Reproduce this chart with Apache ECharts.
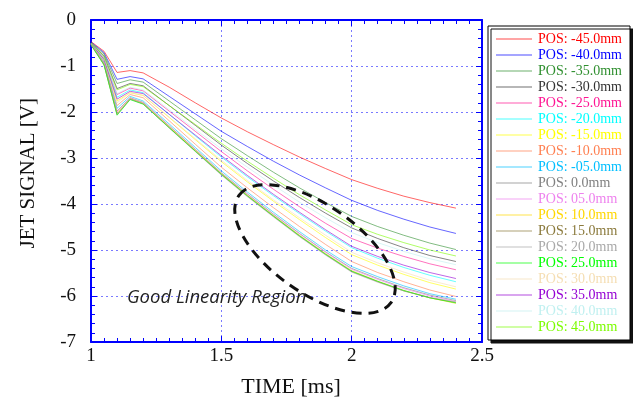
<!DOCTYPE html>
<html>
<head>
<meta charset="utf-8">
<script src="https://cdn.jsdelivr.net/npm/echarts@6/dist/echarts.min.js"></script>
<style>
html,body{margin:0;padding:0;background:#fff;}
#chart{width:633px;height:401px;}
</style>
</head>
<body>
<div id="chart"></div>
<script>
// time points [ms]
var times = [1.0, 1.05, 1.1, 1.15, 1.2, 1.3, 1.4, 1.5, 1.6, 1.7, 1.8, 1.9, 2.0, 2.1, 2.2, 2.3, 2.4];

var seriesNames = ["POS: -45.0mm","POS: -40.0mm","POS: -35.0mm","POS: -30.0mm","POS: -25.0mm","POS: -20.0mm","POS: -15.0mm","POS: -10.0mm","POS: -05.0mm","POS: 0.0mm","POS: 05.0mm","POS: 10.0mm","POS: 15.0mm","POS: 20.0mm","POS: 25.0mm","POS: 30.0mm","POS: 35.0mm","POS: 40.0mm","POS: 45.0mm"];

var seriesColors = ["#ff0000","#0000ff","#2f8f2f","#333333","#ff1493","#00ffff","#ffff00","#ff7f50","#00bfff","#808080","#ee82ee","#ffd700","#8b7a3c","#a9a9a9","#00ff00","#f5deb3","#9400d3","#c0f0f0","#7cfc00"];

// JET SIGNAL [V] per position
var posM45 = [-0.47,-0.68,-1.14,-1.10,-1.15,-1.46,-1.80,-2.13,-2.43,-2.71,-2.98,-3.23,-3.47,-3.66,-3.83,-3.97,-4.09];
var posM40 = [-0.48,-0.71,-1.29,-1.23,-1.28,-1.66,-2.04,-2.42,-2.75,-3.07,-3.37,-3.65,-3.92,-4.14,-4.33,-4.50,-4.64];
var posM35 = [-0.49,-0.74,-1.38,-1.30,-1.35,-1.76,-2.17,-2.58,-2.95,-3.31,-3.65,-3.97,-4.27,-4.49,-4.68,-4.85,-4.99];
var posM30 = [-0.50,-0.78,-1.49,-1.38,-1.43,-1.86,-2.29,-2.72,-3.12,-3.50,-3.86,-4.20,-4.52,-4.75,-4.95,-5.12,-5.25];
var posM25 = [-0.51,-0.83,-1.62,-1.48,-1.54,-1.98,-2.42,-2.86,-3.28,-3.68,-4.06,-4.42,-4.75,-4.96,-5.14,-5.30,-5.43];
var posM20 = [-0.51,-0.85,-1.68,-1.52,-1.58,-2.05,-2.52,-2.98,-3.41,-3.82,-4.21,-4.59,-4.95,-5.18,-5.38,-5.55,-5.69];
var posM15 = [-0.52,-0.87,-1.76,-1.58,-1.64,-2.12,-2.60,-3.08,-3.52,-3.94,-4.34,-4.73,-5.10,-5.33,-5.53,-5.71,-5.85];
var posM10 = [-0.52,-0.90,-1.86,-1.62,-1.69,-2.19,-2.70,-3.20,-3.65,-4.08,-4.49,-4.88,-5.25,-5.49,-5.69,-5.87,-6.01];
var posM05 = [-0.52,-0.92,-1.92,-1.66,-1.76,-2.26,-2.77,-3.28,-3.74,-4.18,-4.60,-5.00,-5.36,-5.58,-5.78,-5.95,-6.07];
var pos00  = [-0.53,-0.94,-1.98,-1.69,-1.79,-2.30,-2.81,-3.32,-3.78,-4.22,-4.64,-5.04,-5.40,-5.62,-5.82,-5.98,-6.10];
var posP05 = [-0.53,-0.95,-2.00,-1.70,-1.80,-2.31,-2.82,-3.33,-3.79,-4.23,-4.65,-5.05,-5.42,-5.64,-5.84,-6.00,-6.12];
var posP10 = [-0.53,-0.96,-2.03,-1.71,-1.81,-2.32,-2.83,-3.34,-3.81,-4.25,-4.68,-5.08,-5.45,-5.68,-5.88,-6.04,-6.16];
var posP15 = [-0.54,-0.97,-2.05,-1.72,-1.82,-2.34,-2.85,-3.36,-3.83,-4.27,-4.70,-5.10,-5.47,-5.69,-5.89,-6.04,-6.14];
var posP20 = [-0.54,-0.97,-2.06,-1.72,-1.82,-2.35,-2.86,-3.37,-3.84,-4.28,-4.71,-5.11,-5.48,-5.70,-5.89,-6.03,-6.13];
var posP25 = [-0.54,-0.98,-2.07,-1.73,-1.83,-2.34,-2.85,-3.35,-3.82,-4.26,-4.69,-5.09,-5.46,-5.68,-5.88,-6.04,-6.15];
var posP30 = [-0.52,-0.88,-1.80,-1.58,-1.64,-2.11,-2.58,-3.05,-3.49,-3.91,-4.30,-4.68,-5.05,-5.28,-5.48,-5.66,-5.80];
var posP35 = [-0.51,-0.86,-1.72,-1.55,-1.60,-2.05,-2.50,-2.95,-3.38,-3.79,-4.18,-4.56,-4.92,-5.14,-5.33,-5.49,-5.62];
var posP40 = [-0.50,-0.82,-1.60,-1.46,-1.52,-1.95,-2.38,-2.80,-3.20,-3.59,-3.96,-4.30,-4.62,-4.84,-5.03,-5.19,-5.32];
var posP45 = [-0.50,-0.80,-1.52,-1.40,-1.45,-1.86,-2.27,-2.68,-3.07,-3.44,-3.80,-4.13,-4.45,-4.66,-4.84,-5.00,-5.13];

var seriesValues = [posM45,posM40,posM35,posM30,posM25,posM20,posM15,posM10,posM05,pos00,posP05,posP10,posP15,posP20,posP25,posP30,posP35,posP40,posP45];

var xTicks = [1, 1.5, 2, 2.5];
var yTicks = [0, -1, -2, -3, -4, -5, -6, -7];

var chart = echarts.init(document.getElementById('chart'), null, {renderer: 'canvas'});

var series = seriesNames.map(function (name, i) {
  return {
    name: name,
    type: 'line',
    symbol: 'none',
    xAxisIndex: 0,
    yAxisIndex: 0,
    lineStyle: {width: 1, color: seriesColors[i], opacity: 0.6},
    itemStyle: {color: seriesColors[i]},
    data: times.map(function (t, j) { return [t, seriesValues[i][j]]; }),
    z: 2
  };
});

var blue = '#0000ff';
var gridLine = {show: true, lineStyle: {color: '#7a7aff', width: 1, type: [2, 3]}};
var serif = 'Liberation Serif';

function xAxisBase(pos, labels) {
  return {
    type: 'value', position: pos, min: xTicks[0], max: xTicks[xTicks.length - 1], interval: 0.5,
    axisLine: {show: true, onZero: false, lineStyle: {color: blue, width: 2}},
    axisTick: {show: true, inside: true, length: 6, lineStyle: {color: blue}},
    minorTick: {show: true, splitNumber: 10, length: 4, lineStyle: {color: blue}},
    axisLabel: {show: labels, color: '#111', fontFamily: serif, fontSize: 19, margin: 5,
      formatter: function (v) { return String(v); }},
    splitLine: pos === 'bottom' ? gridLine : {show: false}
  };
}
function yAxisBase(pos, labels) {
  return {
    type: 'value', position: pos, min: yTicks[yTicks.length - 1], max: yTicks[0], interval: 1,
    axisLine: {show: true, onZero: false, lineStyle: {color: blue, width: 2}},
    axisTick: {show: true, inside: true, length: 6, lineStyle: {color: blue}},
    minorTick: {show: true, splitNumber: 5, length: 4, lineStyle: {color: blue}},
    axisLabel: {show: labels, color: '#111', fontFamily: serif, fontSize: 19, margin: 15,
      formatter: function (v) { return String(v); }},
    splitLine: pos === 'left' ? gridLine : {show: false}
  };
}

var option = {
  animation: false,
  backgroundColor: '#ffffff',
  grid: {left: 91, right: 151, top: 20, bottom: 59, containLabel: false},
  xAxis: [xAxisBase('bottom', true), xAxisBase('top', false)],
  yAxis: [yAxisBase('left', true), yAxisBase('right', false)],
  legend: {
    orient: 'vertical', left: 488, top: 26,
    padding: [5, 8, 5, 8],
    itemGap: 0, itemWidth: 36, itemHeight: 1,
    icon: 'rect',
    itemStyle: {opacity: 0.7},
    backgroundColor: '#ffffff', borderColor: '#000', borderWidth: 1,
    shadowColor: '#111', shadowOffsetX: 3, shadowOffsetY: 3, shadowBlur: 0,
    textStyle: {fontFamily: serif, fontSize: 14, lineHeight: 16, padding: [0, 0, 0, 1]},
    data: seriesNames.map(function (n, i) { return {name: n, textStyle: {color: seriesColors[i]}}; })
  },
  graphic: [
    {type: 'text', left: 18, top: 166 - 68, rotation: Math.PI / 2,
      style: {text: 'JET SIGNAL [V]', fill: '#111', font: '21px "Liberation Serif"'}},
    {type: 'text', x: 291, y: 387,
      style: {text: 'TIME [ms]', fill: '#111', font: '22px "Liberation Serif"', textAlign: 'center', textVerticalAlign: 'middle'}},
    {type: 'ellipse', x: 315, y: 249, rotation: -35 * Math.PI / 180, z: 10,
      shape: {cx: 0, cy: 0, rx: 93, ry: 44},
      style: {fill: 'none', stroke: '#111', lineWidth: 3, lineDash: [10, 7]}},
    {type: 'text', x: 127, y: 298, z: 10,
      style: {text: 'Good Linearity Region', fill: '#222', font: 'italic 18.5px "Open Sans"', textVerticalAlign: 'middle'}}
  ],
  series: series
};
chart.setOption(option);
</script>
</body>
</html>
